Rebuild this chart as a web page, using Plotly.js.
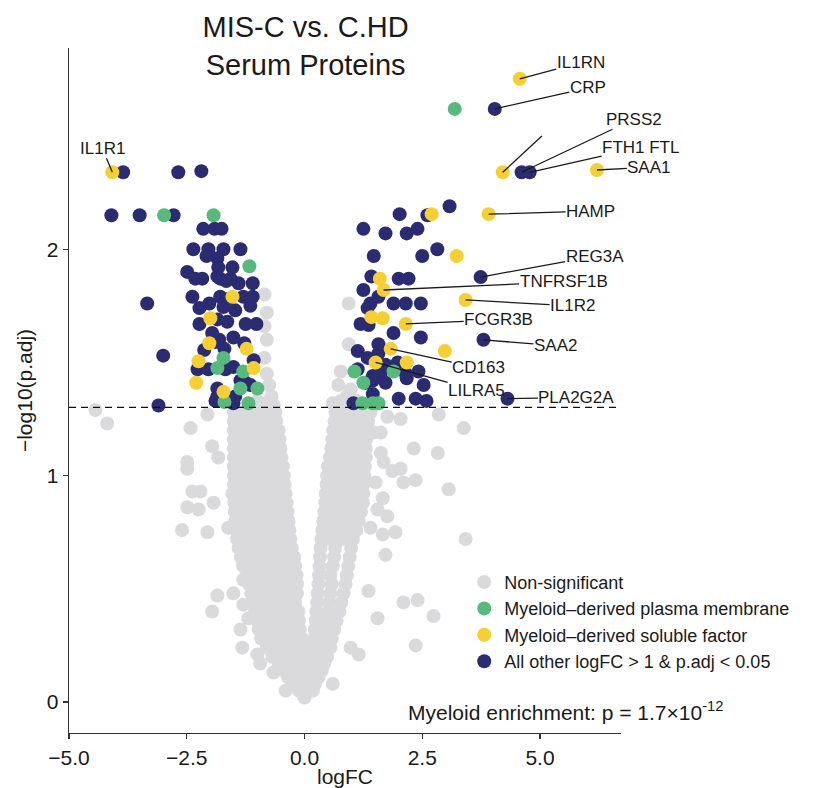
<!DOCTYPE html>
<html>
<head>
<meta charset="utf-8">
<script src="https://cdn.plot.ly/plotly-3.0.1.min.js"></script>
<style>html,body{margin:0;padding:0;background:#fff;}#chart{width:815px;height:788px;}</style>
</head>
<body>
<div id="chart"></div>
<script>
// ---------------- DATA ----------------
// Non-significant proteins: dense V-shaped cloud, stored row by row (y level, x values)
const greyRowY = [0.02, 0.05, 0.08, 0.11, 0.14, 0.17, 0.20, 0.24, 0.28, 0.32, 0.36, 0.40, 0.44, 0.48,
  0.52, 0.56, 0.60, 0.64, 0.68, 0.72, 0.76, 0.80, 0.84, 0.88, 0.92, 0.96, 1.00, 1.04, 1.08, 1.12,
  1.16, 1.20, 1.24, 1.28];
const greyRowX = [
  [0.0],
  [-0.12, 0.05, 0.18],
  [-0.25, -0.08, 0.08, 0.22],
  [-0.35, -0.17, 0.0, 0.15, 0.3],
  [-0.45, -0.27, -0.1, 0.07, 0.22, 0.37],
  [-0.55, -0.37, -0.19, -0.02, 0.15, 0.3, 0.42],
  [-0.68, -0.5, -0.32, -0.14, 0.05, 0.22, 0.38, 0.48],
  [-0.8, -0.62, -0.44, -0.26, -0.08, 0.1, 0.28, 0.44, 0.55],
  [-0.92, -0.74, -0.56, -0.38, -0.2, -0.05, 0.2, 0.38, 0.58],
  [-0.97, -0.79, -0.61, -0.43, -0.25, -0.1, 0.22, 0.42, 0.63],
  [-1.0, -0.82, -0.64, -0.46, -0.28, -0.12, 0.24, 0.45, 0.68],
  [-1.05, -0.87, -0.69, -0.51, -0.33, -0.13, 0.25, 0.5, 0.74],
  [-1.1, -0.92, -0.74, -0.56, -0.38, -0.2, 0.27, 0.52, 0.78],
  [-1.13, -0.95, -0.77, -0.59, -0.41, -0.16, 0.28, 0.55, 0.83],
  [-1.17, -0.99, -0.81, -0.63, -0.45, -0.27, -0.16, 0.3, 0.58, 0.87],
  [-1.22, -1.04, -0.86, -0.68, -0.5, -0.32, -0.17, 0.31, 0.55, 0.9],
  [-1.3, -1.1, -0.92, -0.74, -0.56, -0.38, -0.2, 0.32, 0.6, 0.93],
  [-1.35, -1.16, -0.98, -0.8, -0.62, -0.44, -0.22, 0.33, 0.63, 0.96],
  [-1.4, -1.22, -1.04, -0.86, -0.68, -0.5, -0.27, 0.34, 0.65, 0.99],
  [-1.43, -1.25, -1.07, -0.89, -0.71, -0.53, -0.3, 0.36, 0.5, 0.62, 0.75, 0.85, 1.03],
  [-1.45, -1.27, -1.09, -0.91, -0.73, -0.55, -0.32, 0.38, 0.52, 0.65, 0.78, 0.9, 1.1],
  [-1.47, -1.29, -1.11, -0.93, -0.75, -0.57, -0.34, 0.4, 0.55, 0.68, 0.8, 0.92, 1.05, 1.15],
  [-1.48, -1.3, -1.12, -0.94, -0.76, -0.58, -0.36, 0.42, 0.57, 0.7, 0.83, 0.95, 1.08, 1.2],
  [-1.49, -1.31, -1.13, -0.95, -0.77, -0.59, -0.38, 0.44, 0.59, 0.72, 0.85, 0.98, 1.1, 1.24],
  [-1.5, -1.32, -1.14, -0.96, -0.78, -0.6, -0.4, 0.45, 0.6, 0.74, 0.87, 1.0, 1.12, 1.25],
  [-1.5, -1.32, -1.14, -0.96, -0.78, -0.6, -0.42, 0.47, 0.62, 0.76, 0.89, 1.02, 1.14, 1.25],
  [-1.5, -1.32, -1.14, -0.96, -0.78, -0.6, -0.44, 0.48, 0.63, 0.78, 0.91, 1.04, 1.16, 1.27],
  [-1.5, -1.32, -1.14, -0.96, -0.78, -0.62, -0.46, 0.5, 0.65, 0.8, 0.93, 1.05, 1.17, 1.28],
  [-1.5, -1.32, -1.14, -0.96, -0.8, -0.65, -0.49, 0.54, 0.68, 0.82, 0.95, 1.06, 1.18, 1.3],
  [-1.5, -1.32, -1.14, -0.98, -0.83, -0.68, -0.51, 0.57, 0.71, 0.84, 0.97, 1.08, 1.19, 1.3],
  [-1.5, -1.33, -1.16, -1.0, -0.85, -0.7, -0.53, 0.59, 0.73, 0.86, 0.98, 1.1, 1.21, 1.31],
  [-1.5, -1.33, -1.16, -1.0, -0.85, -0.7, -0.55, 0.61, 0.75, 0.88, 1.0, 1.12, 1.22, 1.32],
  [-1.5, -1.33, -1.16, -1.0, -0.85, -0.72, -0.6, 0.64, 0.77, 0.9, 1.02, 1.14, 1.25, 1.35],
  [-1.5, -1.33, -1.16, -1.0, -0.85, -0.74, -0.62, 0.66, 0.79, 0.92, 1.04, 1.16, 1.28, 1.4]
];
// Non-significant scattered points
const greyOutX = [-4.44, -4.19, -2.42, -2.06, -1.96, -1.83, -2.49, -2.49, -2.38, -2.21, -1.93, -2.49, -2.25,
  -2.6, -2.06, -1.62, -1.53, -1.85, -1.96, -1.51, -1.3, -1.19, -1.36, -1.32, -1.0, -1.3, -1.3, -0.66, -0.4, -0.94,
  -0.85, -0.8, -0.85, -0.8, -0.85, -0.8, -0.75, -0.7, -0.85, -1.0, -0.65,
  2.85, 3.38, 2.32, 2.83, 1.87, 2.04, 2.36, 2.1, 3.06, 1.51, 1.66, 1.76, 1.4, 1.66, 1.93, 3.42, 1.62, 1.62,
  1.68, 2.04, 1.76, 1.47, 1.55, 1.36, 1.55, 2.1, 2.4, 2.74, 2.36, 1.15, 1.72, 0.98, 0.6,
  0.94, 0.94, 0.77, 0.72, 0.77, 0.9, 1.1, 0.6, 0.98];
const greyOutY = [1.29, 1.23, 1.21, 1.27, 1.13, 1.08, 1.06, 1.03, 0.93, 0.93, 0.88, 0.86, 0.85,
  0.76, 0.75, 0.77, 0.92, 0.47, 0.40, 0.48, 0.43, 0.37, 0.32, 0.24, 0.21, 0.61, 0.54, 0.13, 0.05, 0.17,
  1.8, 1.72, 1.66, 1.6, 1.52, 1.45, 1.4, 1.35, 1.32, 1.33, 1.31,
  1.27, 1.21, 1.12, 1.10, 1.02, 1.03, 0.98, 0.97, 0.94, 0.97, 0.9, 0.82, 0.77, 0.74, 0.75, 0.72, 1.19, 1.1,
  1.06, 1.25, 1.26, 1.19, 0.85, 0.49, 0.37, 0.44, 0.45, 0.38, 0.25, 0.21, 0.65, 0.24, 0.08,
  1.76, 1.58, 1.46, 1.4, 1.33, 1.35, 1.33, 1.32, 1.38];

// Myeloid-derived plasma membrane (green)
const greenX = [3.19, 1.06, 1.89, 1.25, 1.23, 1.45, 1.57,
  -2.98, -1.93, -1.17, -1.72, -1.85, -1.3, -1.36, -1.0, -1.7, -1.19];
const greenY = [2.62, 1.46, 1.46, 1.41, 1.32, 1.32, 1.32,
  2.15, 2.15, 1.925, 1.52, 1.475, 1.46, 1.385, 1.385, 1.325, 1.32];

// Myeloid-derived soluble factor (yellow), unlabelled
const yellowX = [4.21, 2.7, 3.23, 1.6, 1.42, 1.66, 2.98, 2.17,
  -1.53, -2.0, -2.02, -1.23, -2.25, -1.08, -2.3, -1.72];
const yellowY = [2.34, 2.155, 1.97, 1.87, 1.70, 1.695, 1.55, 1.50,
  1.79, 1.695, 1.585, 1.56, 1.505, 1.475, 1.41, 1.37];

// All other logFC > 1 & p.adj < 0.05 (navy), unlabelled
const navyX = [3.08, 2.61, 2.02, 2.4, 2.17, 2.5, 2.82, 1.25, 1.72, 1.47, 1.42, 2.0, 2.21, 1.25, 1.57, 1.4,
  1.89, 2.15, 2.47, 1.34, 1.19, 1.36, 1.89, 2.47, 1.57, 1.57, 1.13, 1.34, 1.98, 1.13, 1.62, 2.15, 2.42,
  1.45, 1.72, 2.17, 2.53, 1.45, 1.04, 2.0, 2.36, 2.59, 1.3, 1.72, 1.45,
  -3.85, -2.68, -2.19, -4.1, -3.5, -2.78, -2.15, -1.91, -1.76, -2.36, -2.04, -1.72, -1.36, -2.08, -1.85,
  -1.83, -1.53, -2.49, -2.32, -2.17, -1.85, -1.4, -1.1, -1.66, -3.34, -2.38, -1.79, -1.62, -1.3, -1.1,
  -2.23, -2.02, -1.72, -1.47, -1.15, -2.23, -1.85, -1.64, -1.25, -1.02, -1.96, -1.81, -1.51, -2.13, -1.7,
  -1.28, -3.0, -1.08, -2.27, -2.04, -1.51, -1.85, -1.25, -1.15, -1.85, -1.51, -3.1, -1.47,
  -1.79, -1.57, -1.89, -1.68, -1.36, -1.89];
const navyY = [2.19, 2.15, 2.155, 2.09, 2.07, 1.97, 2.0, 2.09, 2.07, 1.97, 1.88, 1.87, 1.87, 1.82, 1.79, 1.76,
  1.76, 1.76, 1.76, 1.74, 1.67, 1.665, 1.63, 1.61, 1.58, 1.54, 1.55, 1.52, 1.50, 1.47, 1.45, 1.45, 1.46,
  1.42, 1.41, 1.43, 1.40, 1.36, 1.32, 1.34, 1.34, 1.33, 1.41, 1.49, 1.44,
  2.34, 2.34, 2.345, 2.15, 2.15, 2.15, 2.09, 2.09, 2.09, 2.0, 2.0, 2.0, 2.0, 1.97, 1.96,
  1.92, 1.92, 1.90, 1.87, 1.87, 1.88, 1.85, 1.85, 1.86, 1.76, 1.79, 1.79, 1.78, 1.79, 1.79,
  1.74, 1.76, 1.745, 1.73, 1.75, 1.67, 1.69, 1.68, 1.67, 1.67, 1.63, 1.60, 1.61, 1.555, 1.56,
  1.585, 1.53, 1.51, 1.47, 1.47, 1.48, 1.385, 1.41, 1.40, 1.35, 1.32, 1.31, 1.35,
  1.87, 1.87, 1.59, 1.47, 1.42, 1.33];

// Labelled proteins
const labelGene  = ["IL1RN", "CRP", "PRSS2", "FTH1 FTL", "SAA1", "HAMP", "REG3A", "TNFRSF1B", "IL1R2",
  "FCGR3B", "SAA2", "CD163", "LILRA5", "PLA2G2A", "IL1R1"];
const labelX     = [4.57, 4.04, 4.61, 4.78, 6.21, 3.91, 3.74, 1.68, 3.42, 2.15, 3.8, 1.83, 1.51, 4.31, -4.08];
const labelY     = [2.753, 2.62, 2.34, 2.34, 2.35, 2.155, 1.877, 1.82, 1.776, 1.67, 1.60, 1.56, 1.50, 1.34, 2.34];
const labelGroup = ["yellow", "navy", "navy", "navy", "yellow", "yellow", "navy", "yellow", "yellow",
  "yellow", "navy", "yellow", "yellow", "navy", "yellow"];

const seriesNames = ["Non-significant", "Myeloid\u2013derived plasma membrane",
  "Myeloid\u2013derived soluble factor", "All other logFC > 1 & p.adj < 0.05"];
const sigThreshold = 0.05;  // p.adj cut-off (dashed line at -log10)
const enrichmentText = "Myeloid enrichment: p = 1.7\u00d710<sup>-12</sup>";

// ---------------- STYLE ----------------
const COL = {grey: "#dad9db", green: "#58b97c", yellow: "#f5cf33", navy: "#2b2b72"};
const FONT = "Liberation Sans, Arial, Helvetica, sans-serif";
const INK = "#1a1a1a";
const MS = 14;
// label text offsets (pixels, text centre relative to its point)
const labelOffset = {
  "IL1RN": [61, -16], "CRP": [93, -21], "PRSS2": [112, -53], "FTH1 FTL": [111, -25], "SAA1": [52, -3],
  "HAMP": [102, -3], "REG3A": [114, -21], "TNFRSF1B": [180, -8], "IL1R2": [107, 6], "FCGR3B": [93, -4],
  "SAA2": [72, 6], "CD163": [88, 19], "LILRA5": [101, 28], "PLA2G2A": [69, -1], "IL1R1": [-10, -24]
};

// ---------------- BUILD ----------------
const gx = [], gy = [];
greyRowX.forEach((row, i) => row.forEach(v => { gx.push(v); gy.push(greyRowY[i]); }));
greyOutX.forEach((v, i) => { gx.push(v); gy.push(greyOutY[i]); });

function withLabels(xs, ys, group) {
  const X = xs.slice(), Y = ys.slice();
  labelGene.forEach((g, i) => { if (labelGroup[i] === group) { X.push(labelX[i]); Y.push(labelY[i]); } });
  return [X, Y];
}
const [nx, ny] = withLabels(navyX, navyY, "navy");
const [yx, yy] = withLabels(yellowX, yellowY, "yellow");
const [grx, gry] = withLabels(greenX, greenY, "green");

function tr(x, y, name, color, rank) {
  return {type: "scatter", mode: "markers", x: x, y: y, name: name, legendrank: rank,
    marker: {color: color, size: MS, line: {width: 0}}, hoverinfo: "x+y"};
}
const traces = [
  tr(gx, gy, seriesNames[0], COL.grey, 1),
  tr(nx, ny, seriesNames[3], COL.navy, 4),
  tr(grx, gry, seriesNames[1], COL.green, 2),
  tr(yx, yy, seriesNames[2], COL.yellow, 3)
];

const annotations = labelGene.map((g, i) => ({
  x: labelX[i], y: labelY[i], xref: "x", yref: "y", text: g,
  showarrow: true, arrowhead: 0, arrowwidth: 1.3, arrowcolor: INK, standoff: 0, startstandoff: 0,
  ax: labelOffset[g][0], ay: labelOffset[g][1],
  font: {family: FONT, size: 17, color: INK}, borderpad: 0
}));
annotations.push({
  xref: "paper", yref: "paper", x: 0.61, y: 0.032, xanchor: "left", yanchor: "middle",
  text: enrichmentText, showarrow: false, font: {family: FONT, size: 21, color: INK}
});

const yellowOrphan = 0; // index in yellowX of the point carrying an unlabelled leader line
const shapes = [
  {type: "line", xref: "paper", x0: 0, x1: 1, yref: "y",
   y0: -Math.log10(sigThreshold), y1: -Math.log10(sigThreshold),
   line: {color: "#111", width: 1.3, dash: "7px,5px"}},
  {type: "line", xref: "x", yref: "y",
   x0: yellowX[yellowOrphan], y0: yellowY[yellowOrphan],
   x1: yellowX[yellowOrphan] + 0.83, y1: yellowY[yellowOrphan] + 0.16,
   line: {color: INK, width: 1.3}}
];

const axisCommon = {
  showgrid: false, zeroline: false, showline: true, linecolor: "#333", linewidth: 1.3,
  ticks: "outside", ticklen: 5, tickwidth: 1.3, tickcolor: "#333",
  tickfont: {family: FONT, size: 21, color: INK}
};

const layout = {
  width: 815, height: 788,
  paper_bgcolor: "#fff", plot_bgcolor: "#fff",
  margin: {l: 69, r: 194, t: 48, b: 55},
  title: {text: "MIS-C vs. C.HD<br>Serum Proteins", x: 0.375, xanchor: "center", xref: "container",
    y: 0.953, yanchor: "top", yref: "container", font: {family: FONT, size: 29, color: INK}},
  xaxis: Object.assign({}, axisCommon, {range: [-5.0, 6.72], tickvals: [-5, -2.5, 0, 2.5, 5],
    tickformat: ".1f", title: {text: "logFC", font: {family: FONT, size: 21, color: INK}, standoff: 4}}),
  yaxis: Object.assign({}, axisCommon, {range: [-0.137, 2.889], tickvals: [0, 1, 2],
    title: {text: "\u2212log10(p.adj)", font: {family: FONT, size: 21, color: INK}, standoff: 8}}),
  showlegend: true,
  legend: {x: 0.716, y: 0.247, xanchor: "left", yanchor: "top", bgcolor: "rgba(0,0,0,0)",
    font: {family: FONT, size: 18, color: INK}, tracegroupgap: 0, itemclick: false},
  annotations: annotations,
  shapes: shapes,
  hovermode: "closest"
};

Plotly.newPlot("chart", traces, layout, {displayModeBar: false, staticPlot: true});
</script>
</body>
</html>
